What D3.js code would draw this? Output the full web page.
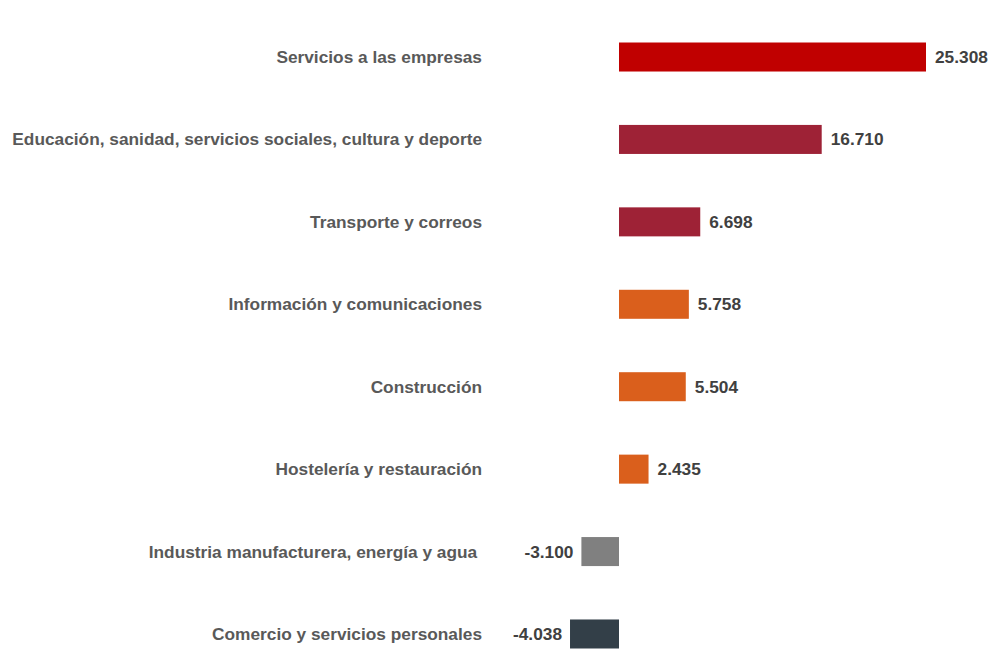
<!DOCTYPE html>
<html>
<head>
<meta charset="utf-8">
<script src="https://cdn.jsdelivr.net/npm/d3@7"></script>
<style>
  html, body { margin: 0; padding: 0; background: #fff; }
  svg text { font-family: "Liberation Sans", Arial, sans-serif; font-weight: bold; white-space: pre; }
</style>
</head>
<body>
<svg id="chart" width="1002" height="661"></svg>
<script>
// Sectors, ordered top to bottom
const sectors = [
  "Servicios a las empresas",
  "Educación, sanidad, servicios sociales, cultura y deporte",
  "Transporte y correos",
  "Información y comunicaciones",
  "Construcción",
  "Hostelería y restauración",
  "Industria manufacturera, energía y agua ",
  "Comercio y servicios personales"
];
// Change per sector
const values = [25308, 16710, 6698, 5758, 5504, 2435, -3100, -4038];
// Bar fill per sector
const colors = ["#C00000", "#9E2236", "#9E2236", "#DA5F1C", "#DA5F1C", "#DA5F1C", "#808080", "#333F48"];

const svg = d3.select("#chart");
const rows = sectors.map((s, i) => ({ sector: s, value: values[i], color: colors[i] }));

const x = d3.scaleLinear().domain([0, 25308]).range([619, 926]);
const y = d3.scaleBand().domain(sectors).range([15.8, 675.2])
  .paddingInner(0.648).paddingOuter(0.324);

// Thousands shown with a dot separator and a plain hyphen for negatives
const fmt = v => (v < 0 ? "-" : "") + d3.format(".3f")(Math.abs(v) / 1000);

const fs = 17.3;

// Bars
svg.append("g").selectAll("rect").data(rows).join("rect")
  .attr("x", d => Math.min(x(0), x(d.value)))
  .attr("width", d => Math.abs(x(d.value) - x(0)))
  .attr("y", d => y(d.sector))
  .attr("height", y.bandwidth())
  .attr("fill", d => d.color);

// Category labels
svg.append("g").selectAll("text").data(rows).join("text")
  .attr("x", 482)
  .attr("y", d => y(d.sector) + y.bandwidth() / 2)
  .attr("dy", "0.35em")
  .attr("text-anchor", "end")
  .attr("font-size", fs)
  .attr("fill", "#595959")
  .text(d => d.sector);

// Value labels
svg.append("g").selectAll("text").data(rows).join("text")
  .attr("x", d => d.value >= 0 ? x(d.value) + 9 : x(d.value) - 8)
  .attr("y", d => y(d.sector) + y.bandwidth() / 2)
  .attr("dy", "0.35em")
  .attr("text-anchor", d => d.value >= 0 ? "start" : "end")
  .attr("font-size", fs)
  .attr("fill", "#404040")
  .text(d => fmt(d.value));
</script>
</body>
</html>
